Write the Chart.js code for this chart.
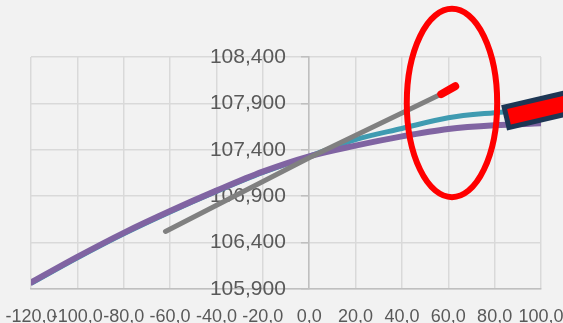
<!DOCTYPE html>
<html>
<head>
<meta charset="utf-8">
<script src="https://cdn.jsdelivr.net/npm/chart.js@4"></script>
<style>
  html, body { margin: 0; padding: 0; background: #f2f2f2; }
  #wrap { width: 563px; height: 323px; position: relative; }
</style>
</head>
<body>
<div id="wrap"><canvas id="curveChart"></canvas></div>
<script>
// curve data
const xValues = [-120, -100, -80, -60, -40, -20, 0, 20, 40, 60, 80, 100];
const purpleValues = [105970, 106246, 106505, 106740, 106960, 107165, 107330, 107445, 107545, 107625, 107665, 107685];
const tealValues = [105960, 106236, 106495, 106730, 106950, 107155, 107330, 107510, 107630, 107745, 107800, 107840];
const grayX = [-62, 0, 57];
const grayValues = [106520, 107315, 108000];
const redX = [57, 63];
const redValues = [108000, 108085];

// axis ticks
const xTicks = [-120, -100, -80, -60, -40, -20, 0, 20, 40, 60, 80, 100];
const yTicks = [105900, 106400, 106900, 107400, 107900, 108400];

// hand drawn marks on top (ellipse + marker pen), in data units
const circleCenter = [61.6, 107905];
const circleRadius = [19.5, 1015];
const penCorner = [82.8, 107880];

function toPoints(xs, ys) {
    let pts = [];
    for (let i = 0; i < xs.length; i++) {
        pts.push({ x: xs[i], y: ys[i] });
    }
    return pts;
}

const annotations = {
    id: 'annotations',
    afterDatasetsDraw(chart) {
        let ctx = chart.ctx;
        let xs = chart.scales.x;
        let ys = chart.scales.y;
        // red ellipse
        let cx = xs.getPixelForValue(circleCenter[0]);
        let cy = ys.getPixelForValue(circleCenter[1]);
        let rx = xs.getPixelForValue(circleCenter[0] + circleRadius[0]) - cx;
        let ry = cy - ys.getPixelForValue(circleCenter[1] + circleRadius[1]);
        ctx.save();
        ctx.beginPath();
        ctx.ellipse(cx, cy, rx, ry, 0, 0, Math.PI * 2);
        ctx.strokeStyle = '#ff0000';
        ctx.lineWidth = 6;
        ctx.stroke();
        // marker pen coming in from the right
        let px = xs.getPixelForValue(penCorner[0]);
        let py = ys.getPixelForValue(penCorner[1]);
        ctx.translate(px, py);
        ctx.rotate(-13.2 * Math.PI / 180);
        ctx.fillStyle = '#1d3654';
        ctx.fillRect(0, 0, 120, 26);
        ctx.fillStyle = '#ff0000';
        ctx.fillRect(5, 5, 115, 16);
        ctx.restore();
    }
};

const ctx = document.getElementById('curveChart').getContext('2d');
const myChart = new Chart(ctx, {
    type: 'scatter',
    data: {
        datasets: [
            {
                label: 'red',
                data: toPoints(redX, redValues),
                showLine: true,
                borderColor: '#ff0000',
                borderWidth: 8,
                borderCapStyle: 'round',
                pointRadius: 0,
                order: 0
            },
            {
                label: 'gray',
                data: toPoints(grayX, grayValues),
                showLine: true,
                borderColor: '#808080',
                borderWidth: 5,
                borderCapStyle: 'round',
                pointRadius: 0,
                order: 1
            },
            {
                label: 'purple',
                data: toPoints(xValues, purpleValues),
                showLine: true,
                borderColor: '#8064a2',
                borderWidth: 6,
                borderCapStyle: 'round',
                cubicInterpolationMode: 'monotone',
                pointRadius: 0,
                order: 2
            },
            {
                label: 'teal',
                data: toPoints(xValues, tealValues),
                showLine: true,
                borderColor: '#3f9bb1',
                borderWidth: 5,
                cubicInterpolationMode: 'monotone',
                pointRadius: 0,
                order: 3
            }
        ]
    },
    options: {
        responsive: true,
        maintainAspectRatio: false,
        animation: false,
        layout: {
            padding: { top: 57, left: 0, right: 0, bottom: 0 }
        },
        plugins: {
            legend: { display: false },
            tooltip: { enabled: false }
        },
        scales: {
            x: {
                type: 'linear',
                min: -120,
                max: 100,
                afterBuildTicks: function (scale) {
                    scale.ticks = xTicks.map(v => ({ value: v }));
                },
                afterFit: function (scale) {
                    scale.height = 34;
                    scale.paddingLeft = 31;
                    scale.paddingRight = 22;
                },
                grid: { color: '#d9d9d9', lineWidth: 1.5, drawTicks: false },
                border: { color: '#bfbfbf', width: 1.5 },
                ticks: {
                    color: '#595959',
                    padding: 17,
                    maxRotation: 0,
                    autoSkip: false,
                    font: { family: 'Liberation Sans', size: 18 },
                    callback: function (v) { return v.toFixed(1).replace('.', ','); }
                }
            },
            y: {
                type: 'linear',
                position: { x: 0 },
                min: 105900,
                max: 108400,
                afterBuildTicks: function (scale) {
                    scale.ticks = yTicks.map(v => ({ value: v }));
                },
                afterFit: function (scale) {
                    scale.paddingTop = 0;
                    scale.paddingBottom = 0;
                },
                grid: {
                    color: '#d9d9d9',
                    lineWidth: 1.5,
                    drawTicks: true,
                    tickLength: 7,
                    tickColor: '#bfbfbf'
                },
                border: { color: '#bfbfbf', width: 1.5 },
                ticks: {
                    color: '#595959',
                    autoSkip: false,
                    font: { family: 'Liberation Sans', size: 21 },
                    // labels sit on the axis line at x=0, trailing spaces push them off it
                    callback: function (v) { return v.toLocaleString('en-US') + '    '; }
                }
            }
        }
    },
    plugins: [annotations]
});
</script>
</body>
</html>
